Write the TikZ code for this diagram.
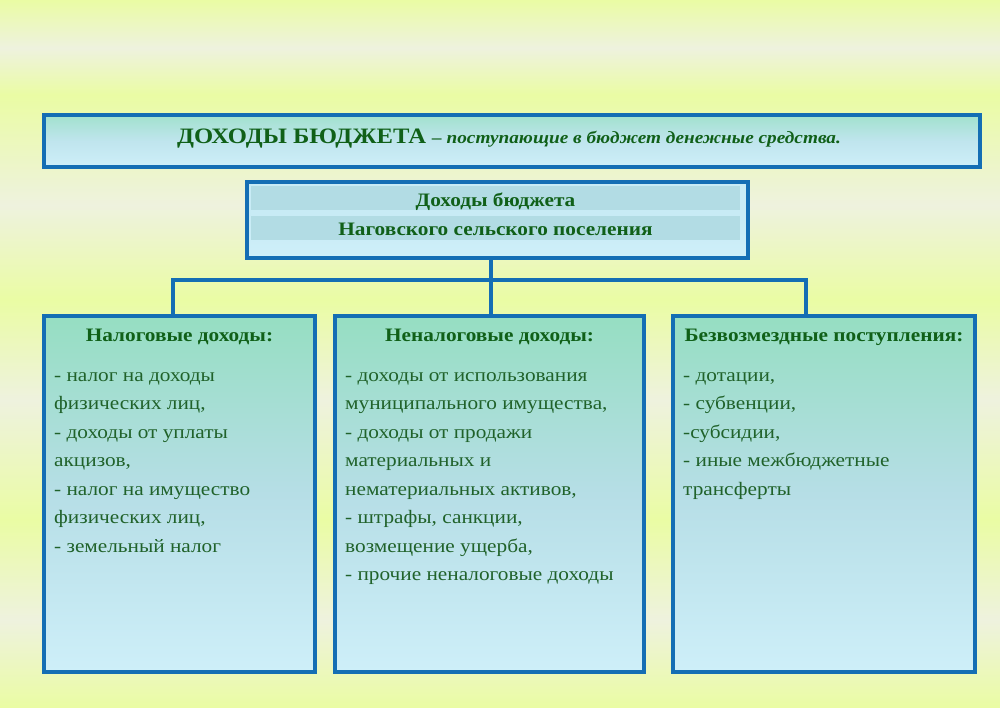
\documentclass[tikz,border=0pt]{standalone}
\usepackage{fontspec}
\setmainfont{Liberation Serif}[FakeStretch=1.12]
\usetikzlibrary{positioning}

\definecolor{bordblue}{RGB}{20,110,180}
\definecolor{txtgreen}{RGB}{16,96,24}
\definecolor{bodygreen}{RGB}{32,98,42}
\definecolor{boxmint}{RGB}{150,222,194}
\definecolor{boxmid}{RGB}{182,222,230}
\definecolor{boxsky}{RGB}{206,239,249}
\definecolor{bandblue}{RGB}{178,220,228}
\definecolor{bgyel}{RGB}{234,252,164}
\definecolor{bgpale}{RGB}{238,242,222}

\tikzset{
  panel/.style={draw=bordblue, line width=4pt, rectangle, inner sep=0pt,
                anchor=north west, top color=boxmint, bottom color=boxsky,
                middle color=boxmid},
  band/.style={fill=bandblue, inner sep=0pt, minimum width=489pt,
               minimum height=24pt, text height=16pt, text depth=0pt,
               text=txtgreen, font=\fontsize{19}{21}\selectfont\bfseries},
  head/.style={anchor=base, inner sep=0pt, text=txtgreen,
               font=\fontsize{19}{21}\selectfont\bfseries},
  items/.style={anchor=north west, inner sep=0pt, align=left, text=bodygreen,
                font=\fontsize{19}{28.5}\selectfont},
  link/.style={draw=bordblue, line width=4pt}
}

\begin{document}
\begin{tikzpicture}[x=1pt, y=-1pt]
  \useasboundingbox (0,0) rectangle (1000,707);
  % background stripes
  \foreach \ya/\yb/\ca/\cb in {0/48/bgyel/bgpale, 48/95/bgpale/bgyel,
      95/205/bgyel/bgpale, 205/300/bgpale/bgyel, 300/400/bgyel/bgpale,
      400/520/bgpale/bgyel, 520/620/bgyel/bgpale, 620/707/bgpale/bgyel}
    \fill[top color=\ca, bottom color=\cb] (0,\ya) rectangle (1000,\yb);

  % definition
  \node[panel, top color=boxmint!80!boxsky, bottom color=boxsky,
        middle color=boxmid!60!boxsky,
        minimum width=936pt, minimum height=52pt] (defbox) at (42,113) {};
  \node[anchor=base, inner sep=0pt, text=txtgreen] (deftext) at (509,143)
    {\fontsize{22}{24}\selectfont\bfseries ДОХОДЫ БЮДЖЕТА
     \fontsize{17.2}{20}\selectfont\itshape – поступающие в бюджет денежные средства.};

  % budget of the settlement
  \node[panel, top color=boxsky!80!bandblue, bottom color=boxsky,
        middle color=boxsky!80!bandblue,
        minimum width=501pt, minimum height=76pt] (budget) at (245,180) {};
  \node[band] (budgetA) at (495.5,198) {Доходы бюджета};
  \node[band] (budgetB) at (495.5,227.5) {Наговского сельского поселения};

  % three groups
  \node[panel, minimum width=271pt, minimum height=356pt] (tax) at (42,314) {};
  \node[panel, minimum width=309pt, minimum height=356pt] (nontax) at (333,314) {};
  \node[panel, minimum width=302pt, minimum height=356pt] (free) at (671,314) {};

  \node[head] (taxhead) at ([yshift=-27pt]tax.north) {Налоговые доходы:};
  \node[head] (nontaxhead) at ([yshift=-27pt]nontax.north) {Неналоговые доходы:};
  \node[head] (freehead) at ([yshift=-27pt]free.north) {Безвозмездные поступления:};

  \node[items] (taxlist) at ([xshift=12pt, yshift=-47pt]tax.north west)
    {\strut- налог на доходы\\
     физических лиц,\\
     - доходы от уплаты\\
     акцизов,\\
     - налог на имущество\\
     физических лиц,\\
     - земельный налог};
  \node[items] (nontaxlist) at ([xshift=12pt, yshift=-47pt]nontax.north west)
    {\strut- доходы от использования\\
     муниципального имущества,\\
     - доходы от продажи\\
     материальных и\\
     нематериальных активов,\\
     - штрафы, санкции,\\
     возмещение ущерба,\\
     - прочие неналоговые доходы};
  \node[items] (freelist) at ([xshift=12pt, yshift=-47pt]free.north west)
    {\strut- дотации,\\
     - субвенции,\\
     -субсидии,\\
     - иные межбюджетные\\
     трансферты};

  % connectors
  \coordinate (hub) at (491,280);
  \coordinate (dropL) at (173,280);
  \coordinate (dropR) at (806,280);
  \draw[link] (budget.south -| hub) -- (hub |- nontax.north);
  \draw[link] (dropL |- tax.north) -- (dropL) -- (dropR) -- (dropR |- free.north);
\end{tikzpicture}
\end{document}
